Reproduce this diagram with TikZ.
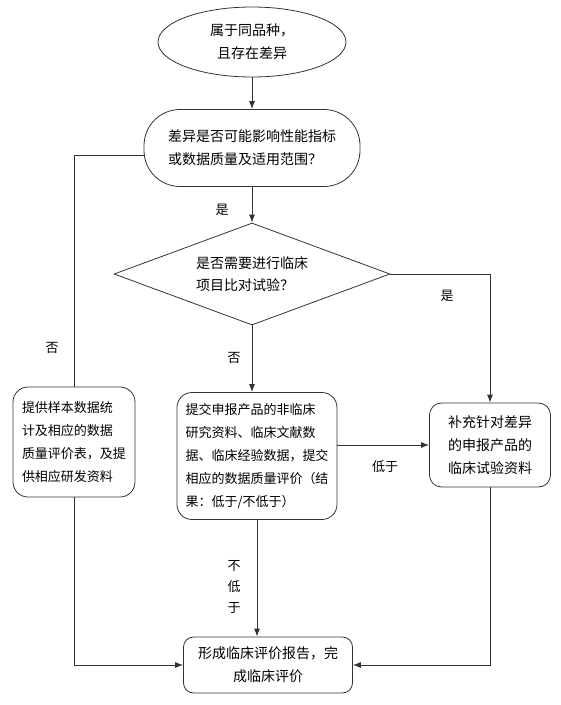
\documentclass[tikz,border=0pt]{standalone}
\usepackage{fontspec}
\setmainfont{Noto Sans CJK SC}
\usetikzlibrary{shapes.geometric, arrows.meta}

\tikzset{
  flowbox/.style={draw, rounded corners=15pt, align=left, inner sep=0pt,
    font=\fontsize{13}{23}\selectfont},
  bigtext/.style={font=\fontsize{14}{23}\selectfont},
  lbl/.style={font=\fontsize{13}{16}\selectfont},
}

\begin{document}
\begin{tikzpicture}[x=1pt, y=-1pt, >={Latex[length=8pt, width=6pt]}, draw=black!80, line width=0.8pt]
\useasboundingbox (0,0) rectangle (561,705);
\node [ellipse, draw, minimum width=188, minimum height=70, inner sep=0pt, align=center, bigtext] (same) at (252,42) {属于同品种，\\且存在差异};
\node [flowbox, rounded corners=36pt, minimum width=216, minimum height=77, bigtext] (impact) at (252,148) {差异是否可能影响性能指标\\或数据质量及适用范围？};
\node [diamond, draw, shape aspect=2.7, minimum width=276, minimum height=102, inner sep=0pt, align=left, font=\fontsize{14}{22}\selectfont] (trial) at (252,274) {是否需要进行临床\\项目比对试验？};
\node [flowbox, minimum width=122, minimum height=110] (sample) at (74,442) {提供样本数据统\\计及相应的数据\\质量评价表，及提\\供相应研发资料};
\node [flowbox, minimum width=160, minimum height=127] (nonclin) at (257,456) {提交申报产品的非临床\\研究资料、临床文献数\\据、临床经验数据，提交\\相应的数据质量评价（结\\果：低于/不低于）};
\node [flowbox, rounded corners=12pt, minimum width=121, minimum height=84, bigtext] (suppl) at (490,445) {补充针对差异\\的申报产品的\\临床试验资料};
\node [flowbox, rounded corners=10pt, minimum width=169, minimum height=56, align=center, bigtext] (report) at (268,665) {形成临床评价报告，完\\成临床评价};

\draw [->] (same) -- (impact);
\draw [->] (impact) -- (trial);
\draw ([yshift=-7pt]impact.west) -| (sample.north);
\draw [->] (trial.east) -| (suppl.north);
\draw [->] (trial.south) -- (trial.south |- nonclin.north);
\draw [->] (nonclin.east |- suppl.west) -- (suppl.west);
\draw [->] (nonclin.south) -- (nonclin.south |- report.north);
\draw [->] (sample.south) |- (report.west);
\draw [->] (suppl.south) |- (report.east);

\node [lbl] (yes1) at (222,210) {是};
\node [lbl] (no1) at (52,348) {否};
\node [lbl] (yes2) at (447,296) {是};
\node [lbl] (no2) at (234,358) {否};
\node [lbl] (lower) at (385,467) {低于};
\node [lbl, align=center, font=\fontsize{13}{21}\selectfont] (notlower) at (234,587) {不\\低\\于};
\end{tikzpicture}
\end{document}
